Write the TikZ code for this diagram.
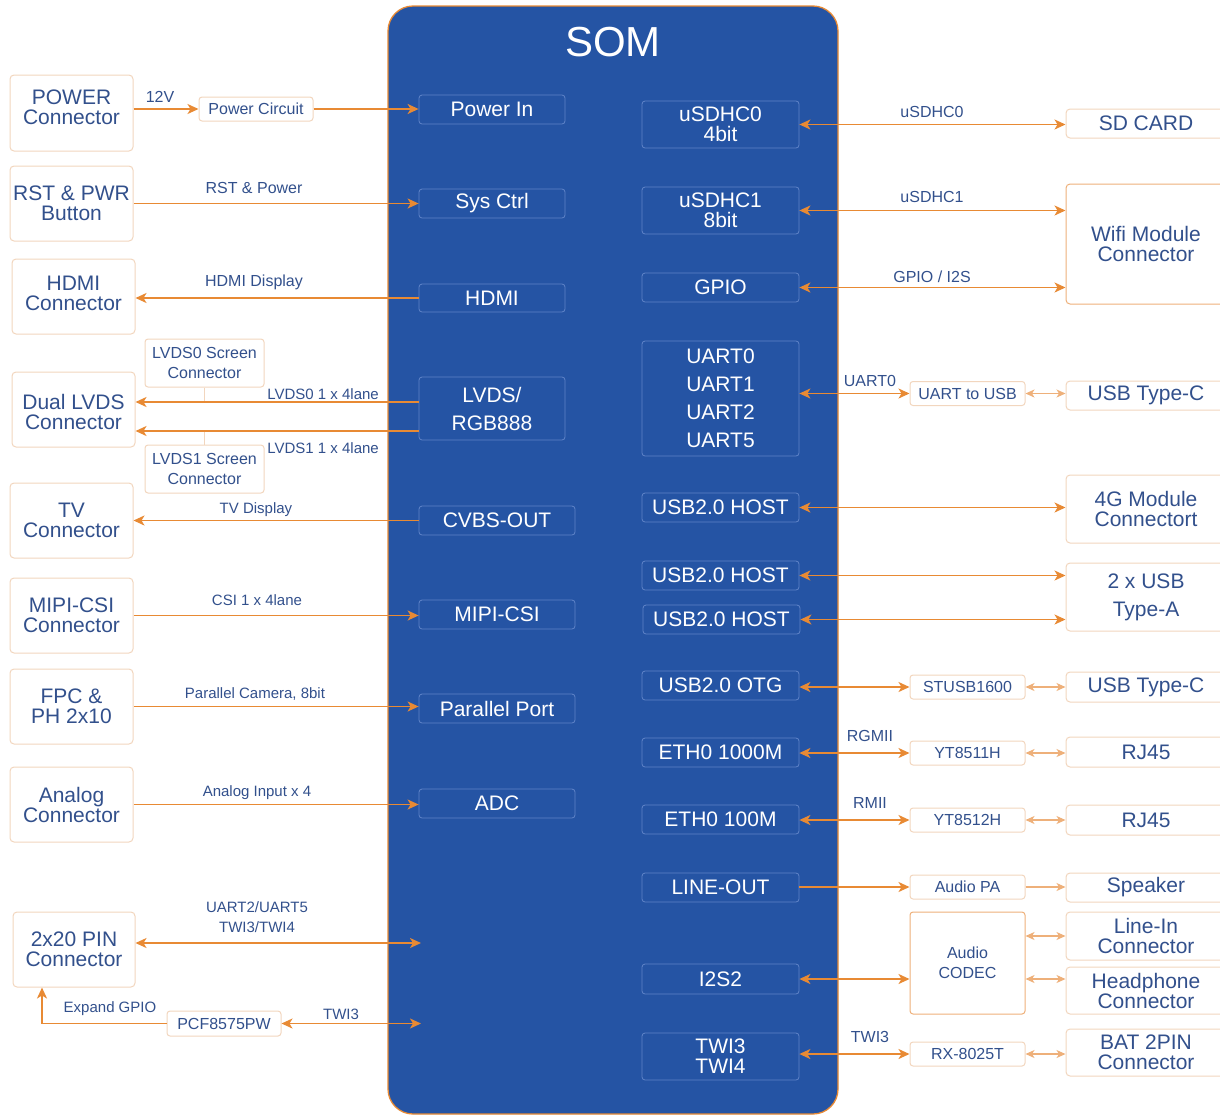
\documentclass[tikz,border=0pt]{standalone}
\usepackage{fontspec}
\setmainfont{Liberation Sans}
\usetikzlibrary{arrows.meta}
\definecolor{som}{RGB}{37,84,164}
\definecolor{somedge}{RGB}{96,132,200}
\definecolor{org}{RGB}{232,138,52}
\definecolor{lorg}{RGB}{238,176,122}
\definecolor{peach}{RGB}{242,214,190}
\definecolor{txt}{RGB}{50,80,140}
\tikzset{
 ext/.style={draw=peach, fill=white, rounded corners=4pt, line width=1pt, text=txt, font=\fontsize{21}{20}\selectfont, align=center, inner sep=0pt},
 exttext/.style={text=txt, font=\fontsize{21}{20}\selectfont, align=center, inner sep=0pt},
 smallbox/.style={draw=peach, fill=white, rounded corners=3pt, line width=1pt, text=txt, font=\fontsize{16}{20}\selectfont, align=center, inner sep=0pt},
 inb/.style={draw=somedge, rounded corners=3pt, line width=0.8pt, text=white, font=\fontsize{21}{20}\selectfont, align=center, inner sep=0pt},
 lbl/.style={text=txt, font=\fontsize{16}{20}\selectfont, inner sep=0pt, align=center},
 lbls/.style={text=txt, font=\fontsize{15}{20}\selectfont, inner sep=0pt, align=center},
 arr/.style={draw=org, line width=1.6pt, -{Stealth[length=11pt,width=10pt,inset=3pt]}},
 darr/.style={draw=org, line width=1.6pt, {Stealth[length=11pt,width=10pt,inset=3pt]}-{Stealth[length=11pt,width=10pt,inset=3pt]}},
 larr/.style={draw=lorg, line width=1.2pt, -{Stealth[length=9pt,width=8pt,inset=2.5pt]}},
 ldarr/.style={draw=lorg, line width=1.2pt, {Stealth[length=9pt,width=8pt,inset=2.5pt]}-{Stealth[length=9pt,width=8pt,inset=2.5pt]}},
 tick/.style={draw=peach, line width=1.2pt}
}
\begin{document}
\begin{tikzpicture}[x=1pt,y=-1pt]
\useasboundingbox (0,0) rectangle (1220,1117);
% SOM
\node[draw=org, fill=som, rounded corners=25pt, minimum width=450, minimum height=1108, line width=1.3pt, inner sep=0pt] (som) at (613,560) {};
\node[text=white, font=\fontsize{42}{44}\selectfont, inner sep=0pt] (title) at (613,42) {SOM};
% inner left
\node[inb, minimum width=146, minimum height=29] (pin) at (492,109.5) {Power In};
\node[inb, minimum width=146, minimum height=29] (sys) at (492,203.5) {Sys Ctrl};
\node[inb, minimum width=146, minimum height=28] (hdmi) at (492,298) {HDMI};
\node[inb, minimum width=146, minimum height=63, font=\fontsize{21}{28}\selectfont] (lvds) at (492,408.5) {LVDS/\\RGB888};
\node[inb, minimum width=156, minimum height=29] (cvbs) at (497,520.5) {CVBS-OUT};
\node[inb, minimum width=156, minimum height=29] (mipi) at (497,614.5) {MIPI-CSI};
\node[inb, minimum width=156, minimum height=29] (par) at (497,708.5) {Parallel Port};
\node[inb, minimum width=156, minimum height=29] (adc) at (497,803.5) {ADC};
% inner right
\node[inb, minimum width=157, minimum height=47] (sd0) at (720.5,124.5) {uSDHC0\\4bit};
\node[inb, minimum width=157, minimum height=47] (sd1) at (720.5,210.5) {uSDHC1\\8bit};
\node[inb, minimum width=157, minimum height=29] (gpio) at (720.5,287.5) {GPIO};
\node[inb, minimum width=157, minimum height=115, font=\fontsize{21}{28}\selectfont] (uart) at (720.5,398.5) {UART0\\UART1\\UART2\\UART5};
\node[inb, minimum width=157, minimum height=29] (uh1) at (720.5,507.5) {USB2.0 HOST};
\node[inb, minimum width=157, minimum height=29] (uh2) at (720.5,575.5) {USB2.0 HOST};
\node[inb, minimum width=157, minimum height=29] (uh3) at (721.5,619.5) {USB2.0 HOST};
\node[inb, minimum width=157, minimum height=29] (otg) at (720.5,685.5) {USB2.0 OTG};
\node[inb, minimum width=157, minimum height=29] (eth1) at (720.5,752.5) {ETH0 1000M};
\node[inb, minimum width=157, minimum height=29] (eth2) at (720.5,819.5) {ETH0 100M};
\node[inb, minimum width=157, minimum height=29] (lout) at (720.5,887.5) {LINE-OUT};
\node[inb, minimum width=157, minimum height=30] (i2s) at (720.5,979) {I2S2};
\node[inb, minimum width=157, minimum height=47] (twi) at (720.5,1056.5) {TWI3\\TWI4};
% left external
\node[ext, minimum width=123, minimum height=76] (pwr) at (71.5,113) {};
\node[exttext] (pwrt) at (71.5,107) {POWER\\Connector};
\node[ext, minimum width=123, minimum height=75] (rst) at (71.5,203.5) {RST \& PWR\\Button};
\node[ext, minimum width=123, minimum height=75] (hdmic) at (73.5,296.5) {};
\node[exttext] (hdmict) at (73.5,293.5) {HDMI\\Connector};
\node[ext, minimum width=123, minimum height=75] (lvdsc) at (73.5,409.5) {};
\node[exttext] (lvdsct) at (73.5,412) {Dual LVDS\\Connector};
\node[ext, minimum width=123, minimum height=75] (tvc) at (71.5,520.5) {TV\\Connector};
\node[ext, minimum width=123, minimum height=75] (mipic) at (71.5,615.5) {MIPI-CSI\\Connector};
\node[ext, minimum width=123, minimum height=75] (fpc) at (71.5,706.5) {FPC \&\\PH 2x10};
\node[ext, minimum width=123, minimum height=75] (anac) at (71.5,804.5) {Analog\\Connector};
\node[ext, minimum width=122, minimum height=75] (pinc) at (74,949.5) {2x20 PIN\\Connector};
% left small
\node[smallbox, minimum width=114, minimum height=24] (pcirc) at (256,109) {Power Circuit};
\node[smallbox, minimum width=119, minimum height=48] (ls0) at (204.5,363) {LVDS0 Screen\\Connector};
\node[smallbox, minimum width=119, minimum height=48] (ls1) at (204.5,469) {LVDS1 Screen\\Connector};
\node[smallbox, minimum width=114, minimum height=25] (pcf) at (224,1023.5) {PCF8575PW};
% middle right small
\node[smallbox, minimum width=115, minimum height=24] (u2u) at (967.5,393.5) {UART to USB};
\node[smallbox, minimum width=115, minimum height=24] (stusb) at (967.5,687) {STUSB1600};
\node[smallbox, minimum width=115, minimum height=24] (yt1) at (967.5,753) {YT8511H};
\node[smallbox, minimum width=115, minimum height=24] (yt2) at (967.5,820) {YT8512H};
\node[smallbox, minimum width=115, minimum height=24] (apa) at (967.5,887) {Audio PA};
\node[smallbox, draw=lorg, minimum width=115, minimum height=102] (codec) at (967.5,963) {Audio\\CODEC};
\node[smallbox, minimum width=115, minimum height=24] (rx) at (967.5,1054) {RX-8025T};
% right external
\node[ext, minimum width=160, minimum height=29] (sdc) at (1146,123.5) {SD CARD};
\node[ext, draw=lorg, minimum width=160, minimum height=120] (wifi) at (1146,244) {Wifi Module\\Connector};
\node[ext, minimum width=160, minimum height=29] (tc1) at (1146,395.5) {USB Type-C};
\node[ext, minimum width=160, minimum height=68] (g4) at (1146,509) {4G Module\\Connectort};
\node[ext, minimum width=160, minimum height=68, font=\fontsize{21}{28}\selectfont] (usba) at (1146,597) {2 x USB\\Type-A};
\node[ext, minimum width=160, minimum height=30] (tc2) at (1146,687) {USB Type-C};
\node[ext, minimum width=160, minimum height=30] (rj1) at (1146,752) {RJ45};
\node[ext, minimum width=160, minimum height=30] (rj2) at (1146,820) {RJ45};
\node[ext, minimum width=160, minimum height=29] (spk) at (1146,887.5) {Speaker};
\node[ext, minimum width=160, minimum height=48] (linein) at (1146,936) {Line-In\\Connector};
\node[ext, minimum width=160, minimum height=47] (hp) at (1146,990.5) {Headphone\\Connector};
\node[ext, minimum width=160, minimum height=47] (bat) at (1146,1052.5) {BAT 2PIN\\Connector};
% coordinates
\coordinate (lv0) at (419,402);
\coordinate (lv1) at (419,431);
\coordinate (p1) at (421,943);
\coordinate (p2) at (421,1023);
% left connectors
\draw[arr] (pwr.east |- pcirc) -- (pcirc.west);
\node[lbl] (l12v) at (160,97) {12V};
\draw[arr] (pcirc.east) -- (pcirc.east -| pin.west);
\draw[arr] (rst.east) -- (rst.east -| sys.west);
\node[lbl] (lrst) at (254,188) {RST \& Power};
\draw[arr] (hdmi.west) -- (hdmi.west -| hdmic.east);
\node[lbl] (lhdmi) at (254,282) {HDMI Display};
\draw[tick] (ls0.south) -- (ls0.south |- lv0);
\draw[tick] (ls1.north) -- (ls1.north |- lv1);
\draw[arr] (lv0) -- (lv0 -| lvdsc.east);
\draw[arr] (lv1) -- (lv1 -| lvdsc.east);
\node[lbls, anchor=east] (llv0) at (379,394) {LVDS0 1 x 4lane};
\node[lbls, anchor=east] (llv1) at (379,448) {LVDS1 1 x 4lane};
\draw[arr] (cvbs.west) -- (cvbs.west -| tvc.east);
\node[lbls] (ltv) at (256,510) {TV Display};
\draw[arr] (mipic.east) -- (mipic.east -| mipi.west);
\node[lbls] (lcsi) at (257,600) {CSI 1 x 4lane};
\draw[arr] (fpc.east) -- (fpc.east -| par.west);
\node[lbls] (lpar) at (255,694) {Parallel Camera, 8bit};
\draw[arr] (anac.east) -- (anac.east -| adc.west);
\node[lbls] (lana) at (257,793) {Analog Input x 4};
\draw[darr] (pinc.east |- p1) -- (p1);
\node[lbls] (lpin) at (257,917) {UART2/UART5\\TWI3/TWI4};
\draw[darr] (pcf.east) -- (pcf.east -| p2);
\node[lbls] (ltwil) at (341,1014) {TWI3};
\draw[arr] (pcf.west) -| ([xshift=-32pt]pinc.south);
\node[lbls] (lexp) at (110,1009) {Expand GPIO};
% right connectors
\draw[darr] (sd0.east) -- (sd0.east -| sdc.west);
\node[lbl] (lsd0) at (932,112) {uSDHC0};
\draw[darr] (sd1.east) -- (sd1.east -| wifi.west);
\node[lbl] (lsd1) at (932,197) {uSDHC1};
\draw[darr] (gpio.east) -- (gpio.east -| wifi.west);
\node[lbl] (lgpio) at (932,277) {GPIO / I2S};
\draw[darr] (uart.east |- u2u) -- (u2u.west);
\node[lbl] (luart) at (870,381) {UART0};
\draw[ldarr] (u2u.east) -- (u2u.east -| tc1.west);
\draw[darr] (uh1.east) -- (uh1.east -| g4.west);
\draw[darr] (uh2.east) -- (uh2.east -| usba.west);
\draw[darr] (uh3.east) -- (uh3.east -| usba.west);
\draw[darr] (otg.east |- stusb) -- (stusb.west);
\draw[ldarr] (stusb.east) -- (stusb.east -| tc2.west);
\draw[darr] (eth1.east |- yt1) -- (yt1.west);
\node[lbl] (lrgmii) at (870,736) {RGMII};
\draw[ldarr] (yt1.east) -- (yt1.east -| rj1.west);
\draw[darr] (eth2.east |- yt2) -- (yt2.west);
\node[lbl] (lrmii) at (870,803) {RMII};
\draw[ldarr] (yt2.east) -- (yt2.east -| rj2.west);
\draw[arr] (lout.east |- apa) -- (apa.west);
\draw[larr] (apa.east) -- (apa.east -| spk.west);
\draw[darr] (i2s.east) -- (i2s.east -| codec.west);
\draw[ldarr] (codec.east |- linein) -- (linein.west);
\draw[ldarr] (i2s.east -| codec.east) -- (i2s.east -| hp.west);
\draw[darr] (twi.east |- rx) -- (rx.west);
\node[lbl] (ltwir) at (870,1037) {TWI3};
\draw[ldarr] (rx.east) -- (rx.east -| bat.west);
\end{tikzpicture}
\end{document}
